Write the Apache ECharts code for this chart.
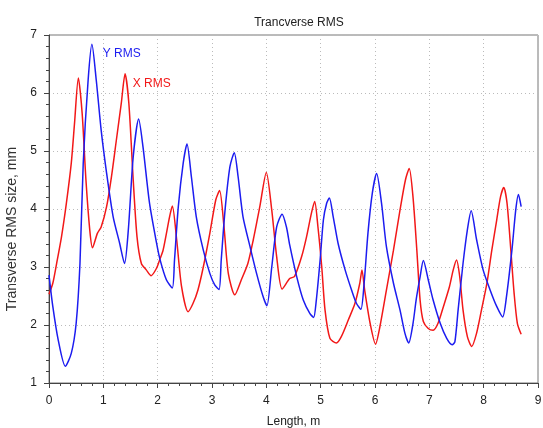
<!DOCTYPE html>
<html>
<head>
<meta charset="utf-8">
<script src="https://cdn.jsdelivr.net/npm/echarts@6/dist/echarts.min.js"></script>
<style>
  html, body { margin: 0; padding: 0; background: #fff; }
  #main { width: 543px; height: 428px; }
</style>
</head>
<body>
<div id="main"></div>
<script>
// Y RMS (blue)
var yRmsLen = [0.00, 0.07, 0.17, 0.30, 0.41, 0.50, 0.57, 0.63, 0.72, 0.79, 0.87, 0.96, 1.06, 1.18, 1.30, 1.39,
  1.46, 1.55, 1.65, 1.73, 1.85, 1.98, 2.04, 2.16, 2.27, 2.31, 2.38, 2.47, 2.54, 2.62, 2.71, 2.84, 2.96, 3.05,
  3.13, 3.17, 3.24, 3.33, 3.41, 3.48, 3.57, 3.70, 3.82, 3.94, 4.01, 4.10, 4.19, 4.29, 4.37, 4.43, 4.56, 4.68,
  4.80, 4.87, 4.92, 4.99, 5.05, 5.11, 5.16, 5.23, 5.32, 5.45, 5.57, 5.66, 5.74, 5.80, 5.87, 5.95, 6.03, 6.12,
  6.21, 6.34, 6.46, 6.55, 6.62, 6.70, 6.76, 6.83, 6.89, 6.98, 7.07, 7.20, 7.32, 7.42, 7.47, 7.53, 7.62, 7.70,
  7.77, 7.87, 7.99, 8.12, 8.24, 8.35, 8.42, 8.52, 8.59, 8.64, 8.69];
var yRmsSize = [2.86, 2.32, 1.74, 1.29, 1.51, 2.03, 3.06, 4.79, 6.22, 6.84, 6.22, 5.36, 4.62, 3.87, 3.41, 3.06,
  3.64, 4.90, 5.55, 5.07, 4.10, 3.41, 3.14, 2.78, 2.64, 3.12, 4.04, 4.79, 5.12, 4.56, 3.87, 3.29, 2.89, 2.69,
  2.61, 3.12, 3.98, 4.73, 4.97, 4.56, 3.87, 3.35, 2.89, 2.49, 2.33, 3.00, 3.69, 3.91, 3.69, 3.38, 2.83, 2.43,
  2.20, 2.13, 2.43, 3.12, 3.81, 4.10, 4.19, 3.87, 3.41, 2.95, 2.60, 2.37, 2.27, 2.72, 3.58, 4.27, 4.61, 4.10,
  3.35, 2.72, 2.26, 1.86, 1.69, 2.03, 2.45, 2.83, 3.11, 2.78, 2.43, 2.03, 1.77, 1.66, 1.71, 2.26, 3.06, 3.64,
  3.97, 3.47, 2.95, 2.60, 2.32, 2.14, 2.49, 3.29, 3.98, 4.25, 4.04];

// X RMS (red)
var xRmsLen = [0.00, 0.07, 0.14, 0.23, 0.32, 0.41, 0.47, 0.54, 0.61, 0.68, 0.75, 0.80, 0.89, 0.96, 1.06, 1.15,
  1.24, 1.33, 1.40, 1.47, 1.55, 1.62, 1.70, 1.79, 1.88, 1.98, 2.04, 2.10, 2.22, 2.27, 2.35, 2.44, 2.56, 2.65,
  2.74, 2.84, 2.96, 3.07, 3.14, 3.22, 3.30, 3.42, 3.54, 3.66, 3.76, 3.88, 4.00, 4.10, 4.19, 4.29, 4.43, 4.52,
  4.65, 4.74, 4.83, 4.89, 4.95, 5.02, 5.08, 5.17, 5.29, 5.38, 5.51, 5.63, 5.72, 5.76, 5.81, 5.91, 6.01, 6.09,
  6.21, 6.34, 6.46, 6.56, 6.63, 6.70, 6.77, 6.83, 6.89, 6.98, 7.07, 7.16, 7.26, 7.37, 7.44, 7.50, 7.56, 7.62,
  7.70, 7.78, 7.87, 7.96, 8.06, 8.15, 8.24, 8.31, 8.37, 8.43, 8.50, 8.56, 8.62, 8.69];
var xRmsSize = [2.53, 2.72, 3.06, 3.52, 4.10, 4.79, 5.48, 6.26, 5.65, 4.50, 3.64, 3.33, 3.58, 3.69, 4.04, 4.56,
  5.19, 5.82, 6.33, 5.82, 4.50, 3.52, 3.06, 2.95, 2.85, 2.98, 3.13, 3.29, 3.87, 4.05, 3.47, 2.66, 2.23, 2.37,
  2.60, 3.00, 3.58, 4.16, 4.32, 3.70, 2.89, 2.52, 2.78, 3.06, 3.47, 4.04, 4.63, 3.98, 3.18, 2.62, 2.80, 2.84,
  3.18, 3.52, 3.93, 4.13, 3.69, 3.00, 2.26, 1.77, 1.69, 1.80, 2.09, 2.37, 2.72, 2.95, 2.60, 2.03, 1.67, 1.97,
  2.60, 3.29, 3.98, 4.50, 4.70, 4.20, 3.29, 2.43, 2.06, 1.94, 1.91, 2.03, 2.32, 2.66, 2.95, 3.12, 2.83, 2.26,
  1.80, 1.63, 1.86, 2.26, 2.72, 3.29, 3.81, 4.21, 4.37, 4.10, 3.29, 2.55, 2.03, 1.84];

// in-plot labels: [length, size, text]
var yLabel = [0.98, 6.67, 'Y RMS'];
var xLabel = [1.53, 6.16, 'X RMS'];

function zip(a, b) {
  return a.map(function (v, i) { return [v, b[i]]; });
}

var chartDom = document.getElementById('main');
var myChart = echarts.init(chartDom);
var option;

var font = 'Liberation Sans, Arial, sans-serif';

function tag(lbl, color) {
  return {
    symbol: 'rect',
    symbolSize: 1,
    itemStyle: { color: 'rgba(0,0,0,0)' },
    label: { show: true, formatter: lbl[2], color: color, fontSize: 12, position: 'right', distance: 0 },
    data: [{ coord: [lbl[0], lbl[1]] }]
  };
}

option = {
  animation: false,
  textStyle: { fontFamily: font },
  title: {
    text: 'Trancverse RMS',
    left: 294,
    top: 12,
    textAlign: 'center',
    textStyle: { fontSize: 12, fontWeight: 'normal', color: '#222', fontFamily: font }
  },
  grid: {
    left: 49, right: 5, top: 35, bottom: 45,
    outerBoundsMode: 'none',
    show: true,
    borderColor: '#777',
    borderWidth: 1
  },
  xAxis: {
    type: 'value',
    min: 0, max: 9, interval: 1,
    name: 'Length, m',
    nameLocation: 'middle',
    nameGap: 33,
    nameTextStyle: { fontSize: 12, color: '#222' },
    axisLine: { show: true, onZero: false, lineStyle: { color: '#444' } },
    axisTick: { show: true, length: 5, lineStyle: { color: '#444' } },
    minorTick: { show: true, splitNumber: 5, length: 3, lineStyle: { color: '#444' } },
    axisLabel: { fontSize: 12, color: '#222', margin: 12 },
    splitLine: { show: true, lineStyle: { color: '#bbb', type: [1, 3] } }
  },
  yAxis: {
    type: 'value',
    min: 1, max: 7, interval: 1,
    name: 'Transverse RMS size, mm',
    nameLocation: 'middle',
    nameGap: 20,
    nameTextStyle: { fontSize: 14, color: '#333', padding: [0, 40, 0, 0] },
    axisLine: { show: true, onZero: false, lineStyle: { color: '#444' } },
    axisTick: { show: true, length: 5, lineStyle: { color: '#444' } },
    minorTick: { show: true, splitNumber: 5, length: 3, lineStyle: { color: '#444' } },
    axisLabel: { fontSize: 12, color: '#222', margin: 12 },
    splitLine: { show: true, lineStyle: { color: '#bbb', type: [1, 3] } }
  },
  series: [
    {
      name: 'X RMS',
      type: 'line',
      data: zip(xRmsLen, xRmsSize),
      showSymbol: false,
      smooth: 0.25,
      lineStyle: { color: '#f21818', width: 1.5 },
      markPoint: tag(xLabel, '#f21818')
    },
    {
      name: 'Y RMS',
      type: 'line',
      data: zip(yRmsLen, yRmsSize),
      showSymbol: false,
      smooth: 0.25,
      lineStyle: { color: '#1c1cf0', width: 1.5 },
      markPoint: tag(yLabel, '#1c1cf0')
    }
  ]
};

option && myChart.setOption(option);
</script>
</body>
</html>
